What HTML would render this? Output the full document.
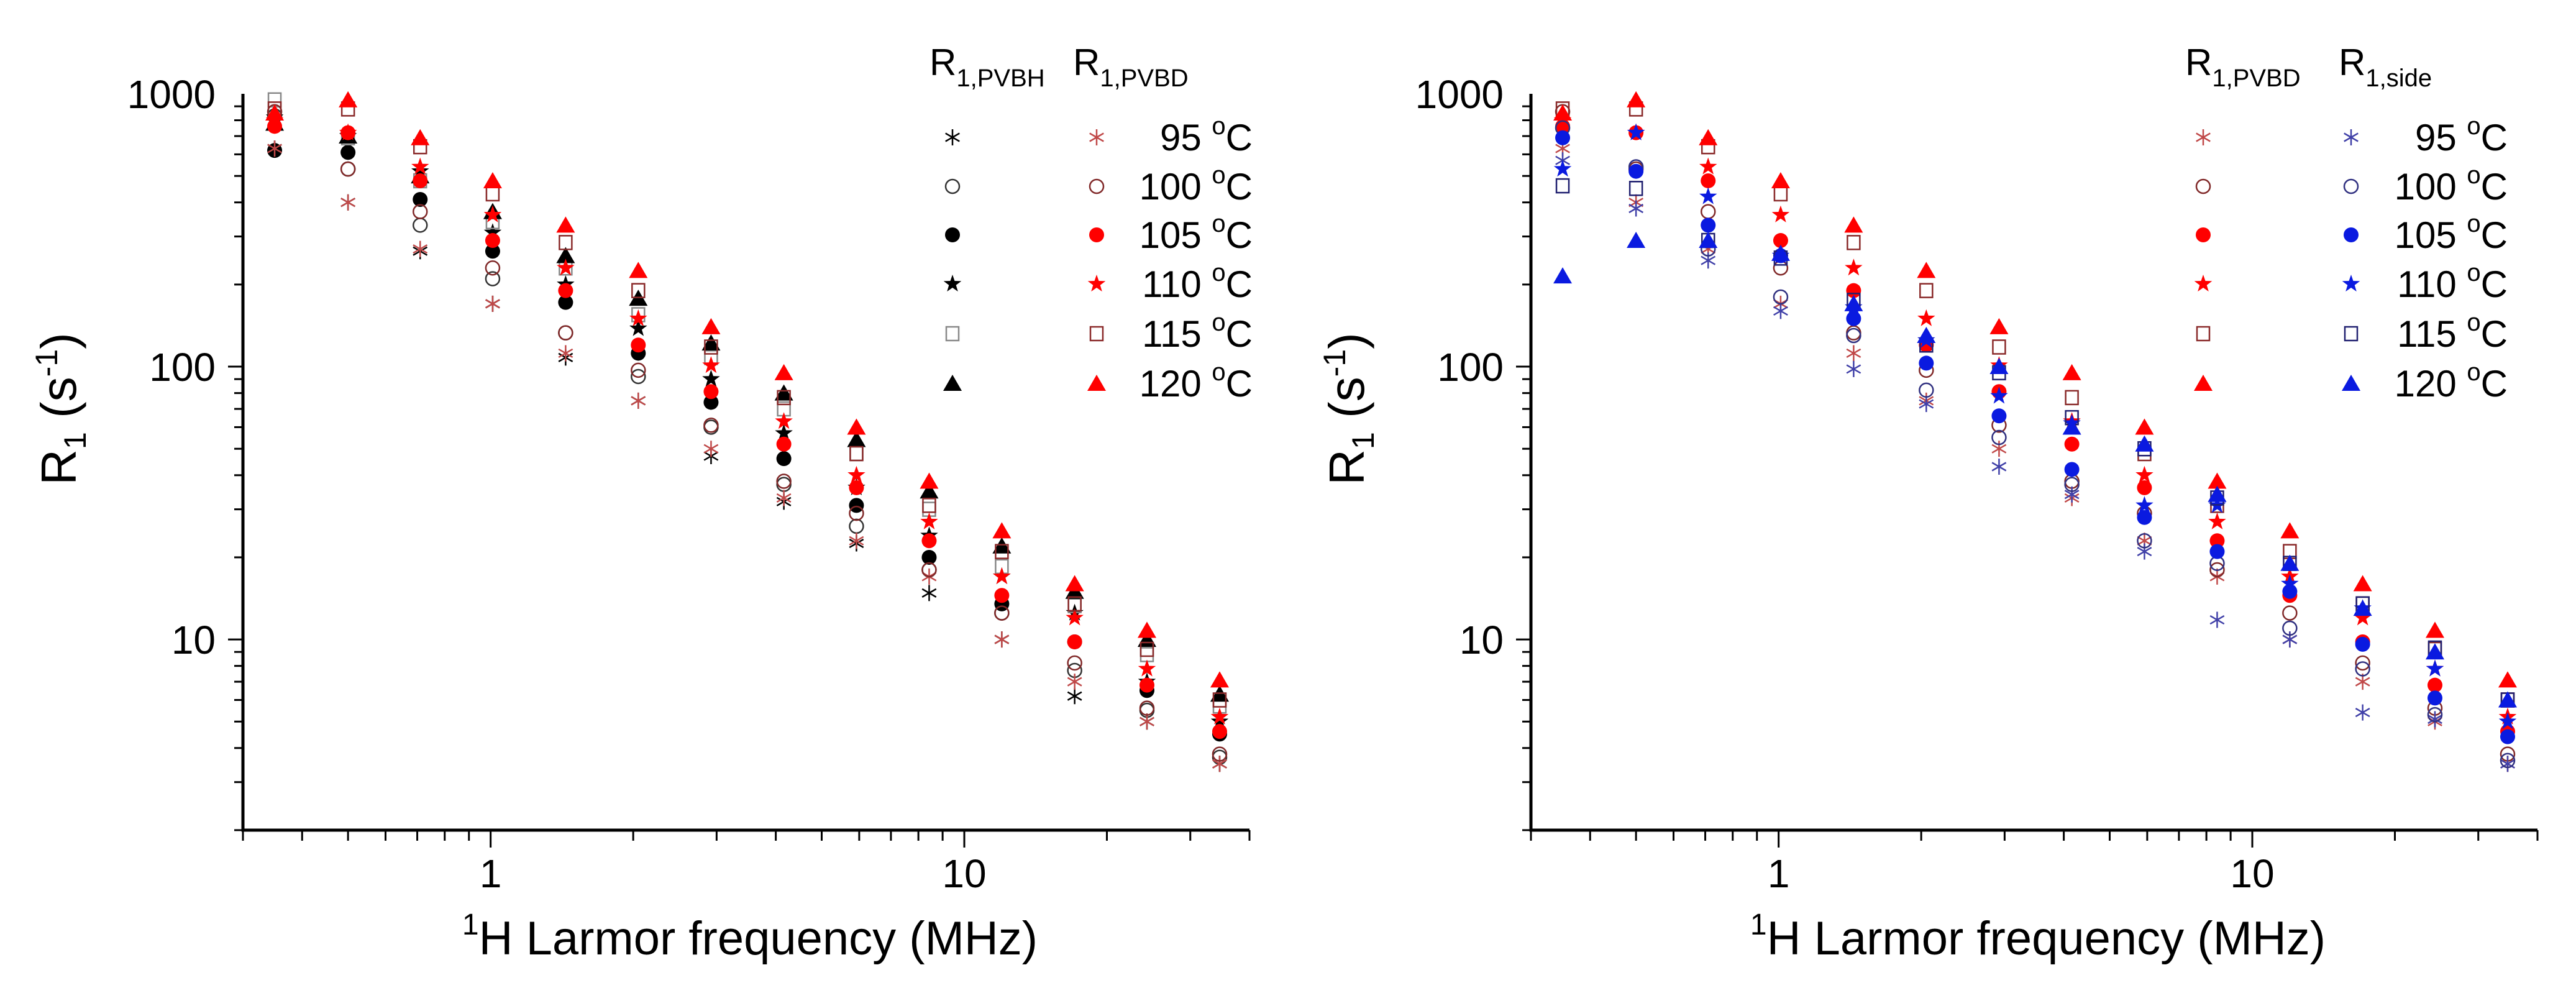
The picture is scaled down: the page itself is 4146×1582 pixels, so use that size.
<!DOCTYPE html>
<html><head><meta charset="utf-8">
<style>
html,body{margin:0;padding:0;background:#fff;}
svg{display:block;font-family:"Liberation Sans",Arial,sans-serif;}
</style></head>
<body>
<svg id="chart" width="4146" height="1582" viewBox="0 0 4146 1582" xmlns="http://www.w3.org/2000/svg"></svg>
<script>
const freqs = [0.35,0.50,0.71,1.01,1.44,2.05,2.92,4.16,5.92,8.43,12.0,17.1,24.3,34.6];
const temps = ["95","100","105","110","115","120"];
const pvbh95  = [630,400,265,170,108,75,47,32,22.5,14.8,10,6.2,5.0,3.5];
const pvbh100 = [830,530,330,210,133,92,60,37,26,18,12.5,7.7,5.5,3.7];
const pvbh105 = [620,610,410,265,172,112,74,46,31,20,13.5,9.8,6.5,4.5];
const pvbh110 = [820,700,520,310,200,138,90,57,36,24,17,12.5,7.0,5.0];
const pvbh115 = [950,690,480,340,230,155,108,70,48,30,18.5,13.3,8.8,5.7];
const pvbh120 = [780,700,500,370,255,178,122,80,54,35,22,15,10,6.3];
const pvbd95  = [630,400,270,170,112,75,50,33,23,17,10,7,5,3.5];
const pvbd100 = [860,530,370,230,133,97,61,38,29,18,12.5,8.2,5.6,3.8];
const pvbd105 = [760,720,480,290,190,120,81,52,36,23,14.5,9.8,6.8,4.6];
const pvbd110 = [800,720,540,360,230,150,101,63,40,27,17,12,7.8,5.2];
const pvbd115 = [880,880,640,430,285,190,118,77,48,31,21,13.5,9.2,6];
const pvbd120 = [850,950,690,480,330,225,140,95,60,38,25,16,10.8,7.1];
const side95  = [570,380,245,160,98,73,43,34,21,11.8,10,5.4,5.1,3.5];
const side100 = [750,540,270,180,130,82,55,37,23,19,11,7.8,5.3,3.6];
const side105 = [690,520,330,255,150,103,66,42,28,21,15,9.6,6.1,4.4];
const side110 = [530,720,420,255,165,125,78,62,31,31,16,13,7.8,5.0];
const side115 = [460,450,290,250,175,120,95,65,50,33,19,13.5,9.3,6.0];
const side120 = [215,290,290,260,170,130,100,60,52,34,19,13,9,6];
const xTicks = [1,10];
const yTicks = [10,100,1000];

const NS="http://www.w3.org/2000/svg";
const svg=document.getElementById('chart');
function mk(tag,attrs,parent){const e=document.createElementNS(NS,tag);for(const k in attrs)e.setAttribute(k,attrs[k]);(parent||svg).appendChild(e);return e;}

const shapes=["asterisk","ocircle","fcircle","star","osquare","triangle"];
function marker(g,shape,x,y,col,lineCol){
  const r=13;
  if(shape==="asterisk"){
    const p=[];
    for(let a=0;a<3;a++){const t=Math.PI/2+a*Math.PI/3;p.push(`M${x-r*Math.cos(t)},${y-r*Math.sin(t)}L${x+r*Math.cos(t)},${y+r*Math.sin(t)}`);}
    mk('path',{d:p.join(''),stroke:lineCol,'stroke-width':2.5,fill:'none'},g);
  }else if(shape==="ocircle"){
    mk('circle',{cx:x,cy:y,r:11,fill:'none',stroke:lineCol,'stroke-width':2.5},g);
  }else if(shape==="fcircle"){
    mk('circle',{cx:x,cy:y,r:12,fill:col},g);
  }else if(shape==="star"){
    let pts=[];for(let i=0;i<10;i++){const rr=i%2?6:15;const t=-Math.PI/2+i*Math.PI/5;pts.push((x+rr*Math.cos(t)).toFixed(1)+','+(y+rr*Math.sin(t)).toFixed(1));}
    mk('polygon',{points:pts.join(' '),fill:col},g);
  }else if(shape==="osquare"){
    mk('rect',{x:x-10,y:y-11,width:20,height:22,fill:'none',stroke:lineCol,'stroke-width':2.5},g);
  }else{
    mk('polygon',{points:`${x},${y-14} ${x+15},${y+12} ${x-15},${y+12}`,fill:col},g);
  }
}

function panel(ox,name,seriesA,seriesB,colA,lineA,colB,lineB,headA,headB){
  const L=ox+391,R=ox+2011,T=151,B=1336;
  const xmin=Math.log10(0.3),xmax=Math.log10(40),ymin=Math.log10(2),ymax=3;
  const xs=v=>L+(Math.log10(v)-xmin)/(xmax-xmin)*(R-L);
  const ys=v=>B-(Math.log10(v)-ymin)/(ymax-ymin)*(B-T);
  const g=mk('g',{});
  
  
  const ax=mk('path',{d:`M${L},${T}L${L},${B}L${R},${B}`,stroke:'#000','stroke-width':5,fill:'none'},g);
  
  
  for(let d=-1;d<=1;d++)for(let m=1;m<=9;m++){const v=m*Math.pow(10,d);if(v<0.3||v>40.01)continue;const x=xs(v);const len=m===1?28:17;mk('line',{x1:x,y1:B,x2:x,y2:B+len,stroke:'#000','stroke-width':3},g);}
  for(let d=0;d<=2;d++)for(let m=1;m<=9;m++){const v=m*Math.pow(10,d);if(v<2||v>1000)continue;const y=ys(v);const len=m===1?24:14;mk('line',{x1:L,y1:y,x2:L-len,y2:y,stroke:'#000','stroke-width':3},g);}
  xTicks.forEach(v=>{const t=mk('text',{x:xs(v),y:1428,'font-size':64,'text-anchor':'middle'},g);t.textContent=v;});
  yTicks.forEach(v=>{const t=mk('text',{x:L-44,y:ys(v)+23,'font-size':64,'text-anchor':'end'},g);t.textContent=v;});
  const xt=mk('text',{x:ox+1207,y:1536,'font-size':76,'text-anchor':'middle'},g);
  xt.innerHTML='<tspan font-size="48" dy="-32">1</tspan><tspan dy="32">H Larmor frequency (MHz)</tspan>';
  
  const yt=mk('text',{transform:`translate(${ox+122},${658}) rotate(-90)`,'font-size':80,'text-anchor':'middle'},g);
  yt.innerHTML='R<tspan font-size="50" dy="16">1</tspan><tspan dy="-16"> (s</tspan><tspan font-size="50" dy="-30">-1</tspan><tspan dy="30">)</tspan>';
  
  [[seriesA,colA,lineA],[seriesB,colB,lineB]].forEach(([ser,col,lc],si)=>{
    ser.forEach((arr,k)=>{
      const sg=mk('g',{},g);
      
      
      arr.forEach((v,i)=>marker(sg,shapes[k],xs(freqs[i]),ys(v),col[k],lc[k]));
    });
  });
  const lg=mk('g',{},g);
  
  
  const h1=mk('text',{x:headA.x,y:121,'font-size':60},lg);
  h1.innerHTML='R<tspan font-size="40" dy="18">'+headA.sub+'</tspan>';
  const h2=mk('text',{x:headB.x,y:121,'font-size':60},lg);
  h2.innerHTML='R<tspan font-size="40" dy="18">'+headB.sub+'</tspan>';
  const rows=[221,300,378,457,537,617];
  temps.forEach((t,k)=>{
    marker(lg,shapes[k],headA.mx,rows[k],colA[k],lineA[k]);
    marker(lg,shapes[k],headB.mx,rows[k],colB[k],lineB[k]);
    const tx=mk('text',{x:headB.end,y:rows[k]+21,'font-size':60,'text-anchor':'end'},lg);
    tx.innerHTML=t+' <tspan font-size="40" dy="-26">o</tspan><tspan dy="26">C</tspan>';
    
    
  });
}
const blackF=['#000','#000','#000','#000','#000','#000'];
const blackL=['#000','#333','#000','#000','#888','#000'];
const redF=['#c04040','#802020','#ff0000','#ff0000','#8a2020','#ff0000'];
const redL=['#c04848','#802828','#ff0000','#ff0000','#8a2a2a','#ff0000'];
const blueF=['#3030a0','#202070','#0a1ae0','#0a1ae0','#101060','#0a1ae0'];
const blueL=['#4040a8','#303080','#0a1ae0','#0a1ae0','#202070','#0a1ae0'];
panel(0,'left-panel',[pvbh95,pvbh100,pvbh105,pvbh110,pvbh115,pvbh120],[pvbd95,pvbd100,pvbd105,pvbd110,pvbd115,pvbd120],blackF,blackL,redF,redL,
  {x:1496,sub:'1,PVBH',mx:1533,tag:'pvbh'},{x:1727,sub:'1,PVBD',mx:1765,end:2016,tag:'pvbd'});
panel(2073,'right-panel',[pvbd95,pvbd100,pvbd105,pvbd110,pvbd115,pvbd120],[side95,side100,side105,side110,side115,side120],redF,redL,blueF,blueL,
  {x:3517,sub:'1,PVBD',mx:3546,tag:'pvbd'},{x:3764,sub:'1,side',mx:3784,end:4036,tag:'side'});
</script>
</body></html>
